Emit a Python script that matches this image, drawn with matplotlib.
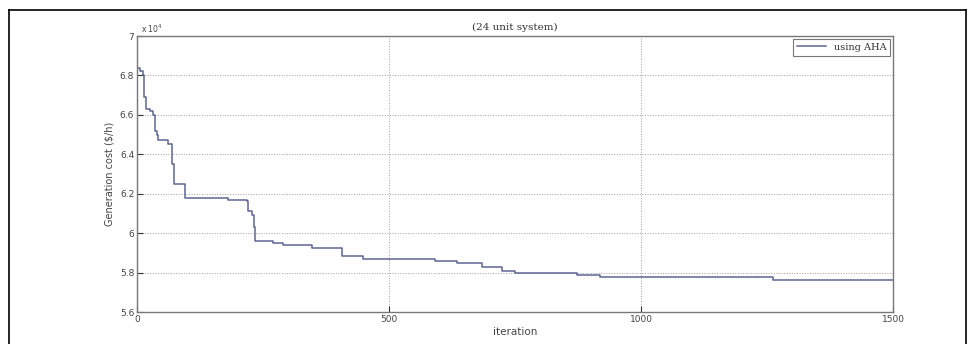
import matplotlib
matplotlib.use("Agg")
import matplotlib.pyplot as plt
from matplotlib.lines import Line2D

# step points of the convergence curve (iteration, cost in 1e4 $/h)
iteration = [0, 6, 12, 14, 18, 26, 32, 36, 40, 42, 62, 69, 73, 95, 181, 218,
             220, 228, 232, 234, 270, 290, 347, 407, 448, 591, 635, 685, 724,
             750, 873, 919, 1262, 1500]
cost = [6.837, 6.82, 6.80, 6.69, 6.63, 6.62, 6.60, 6.52, 6.50, 6.47, 6.45,
        6.35, 6.25, 6.18, 6.17, 6.165, 6.11, 6.09, 6.03, 5.958, 5.952, 5.940,
        5.924, 5.884, 5.869, 5.858, 5.848, 5.828, 5.808, 5.798, 5.787, 5.777,
        5.762, 5.762]

xticks = [0, 500, 1000, 1500]
yticks = [5.6, 5.8, 6.0, 6.2, 6.4, 6.6, 6.8, 7.0]
ylabels = ["5.6", "5.8", "6", "6.2", "6.4", "6.6", "6.8", "7"]

fig = plt.figure(figsize=(9.75, 3.44), dpi=100)
ax = fig.add_axes([137 / 975, 32 / 344, 756 / 975, 276 / 344])

ax.plot(iteration, cost, drawstyle="steps-post", color="#5e6494", lw=1.1,
        label="using AHA")

ax.set_xlim(0, 1500)
ax.set_ylim(5.6, 7.0)
ax.set_xticks(xticks)
ax.set_xticklabels([str(t) for t in xticks])
ax.set_yticks(yticks)
ax.set_yticklabels(ylabels)
ax.grid(True, linestyle=":", color="#a0a0a0", lw=0.7)
ax.tick_params(direction="in", length=4, labelsize=6.5, colors="#333333",
               labelcolor="#444444", pad=2)
for s in ax.spines.values():
    s.set_color("#777777")
    s.set_linewidth(1.0)

ax.set_xlabel("iteration", fontsize=7.5, color="#444444", labelpad=2)
ax.set_ylabel("Generation cost ($/h)", fontsize=7, color="#444444", labelpad=4)
ax.set_title("(24 unit system)", fontsize=7.5, family="DejaVu Serif",
             color="#333333", pad=4)
ax.text(0.005, 1.005, r"x 10$^4$", transform=ax.transAxes, fontsize=5.5,
        color="#444444", va="bottom")

leg = ax.legend(loc="upper right", prop={"family": "DejaVu Serif", "size": 7},
                frameon=True, fancybox=False, handlelength=3, borderpad=0.4,
                borderaxespad=0.3)
leg.get_frame().set_edgecolor("#555555")
leg.get_frame().set_linewidth(0.8)
for t in leg.get_texts():
    t.set_color("#333333")

# outer frame around the figure
for xs, ys in [([9, 966], [334, 334]), ([9, 9], [0, 334]), ([966, 966], [0, 334])]:
    fig.add_artist(Line2D([x / 975 for x in xs], [y / 344 for y in ys],
                          color="black", lw=1.2))

fig.savefig("out.png", dpi=100)
